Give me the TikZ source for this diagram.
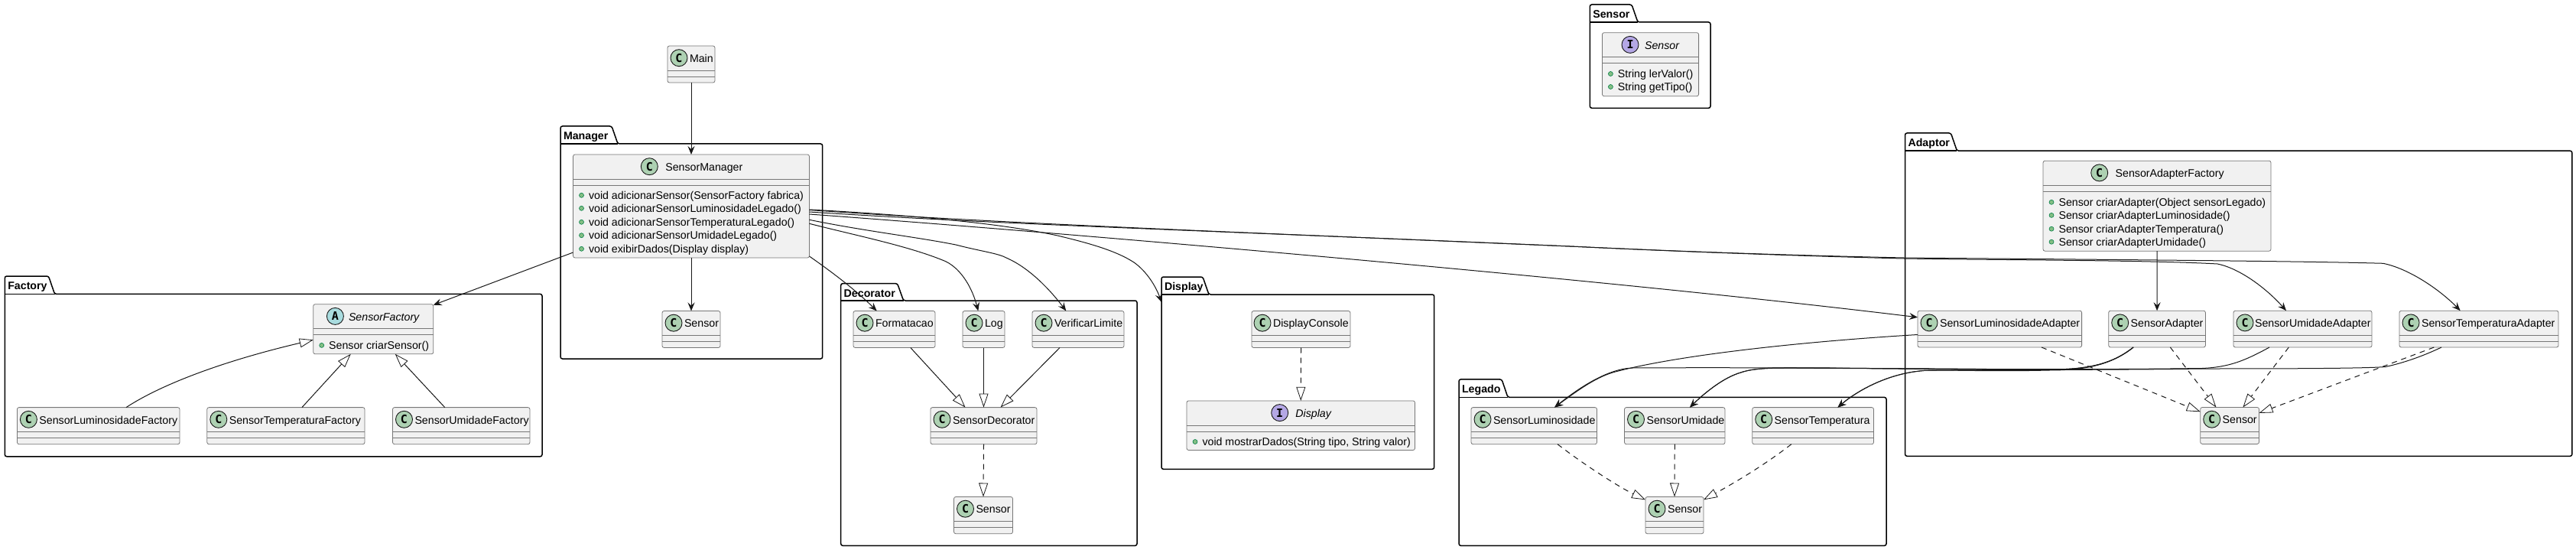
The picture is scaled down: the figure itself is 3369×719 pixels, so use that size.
\documentclass[tikz,border=0pt]{standalone}
\usepackage{fontspec}
\setmainfont{Liberation Sans}
\newfontfamily\iconfont{DejaVu Sans Mono}
\usetikzlibrary{arrows.meta}
\definecolor{umlfill}{HTML}{F1F1F1}
\definecolor{umlline}{HTML}{181818}
\definecolor{umlbox}{HTML}{777777}
\definecolor{iconC}{HTML}{ADD1B2}
\definecolor{iconA}{HTML}{A9DCDF}
\definecolor{iconI}{HTML}{B4A7E5}
\definecolor{dotfill}{HTML}{84BE84}
\definecolor{dotline}{HTML}{038048}
\tikzset{
  every node/.style={inner sep=0pt,outer sep=0pt,font=\fontsize{14.2}{16}\selectfont},
  classbox/.style={draw=umlbox,fill=umlfill,line width=0.8pt,rounded corners=2.5pt},
  compart/.style={draw=umlbox,line width=0.8pt},
  classtext/.style={anchor=base west,text=black},
  pkgshape/.style={draw=black,line width=1.5pt,rounded corners=2.5pt},
  pkgtitle/.style={anchor=base west,font=\fontsize{14.2}{16}\selectfont\bfseries,text=black},
  assoc/.style={draw=umlline,line width=1pt,-{Stealth[length=11pt,width=9pt,inset=4pt]}},
  inherit/.style={draw=umlline,line width=1pt,-{Triangle[length=18pt,width=12pt,fill=white,line width=0.8pt]}},
  realize/.style={inherit,dash pattern=on 7pt off 6pt},
}
\newcommand{\umlclass}[9]{%
  \pgfmathsetmacro\boxcx{(#2+#4)/2}%
  \pgfmathsetmacro\boxcy{(#3+#5)/2}%
  \pgfmathsetmacro\boxw{#4-#2}%
  \pgfmathsetmacro\boxh{#5-#3}%
  \node[classbox,minimum width=\boxw pt,minimum height=\boxh pt] (#1) at (\boxcx,\boxcy) {};
  \draw[compart] (#2,#3+32) -- (#4,#3+32) (#2,#3+40) -- (#4,#3+40);
  \node[circle,draw=umlline,line width=0.9pt,fill=icon#6,minimum size=22pt] (#1-icon) at (#7,#3+15.7)
    {\iconfont\fontsize{15}{15}\selectfont\bfseries #6};
  \node[classtext] (#1-title) at (#8,#3+21.4) {#9};
}
\newcommand{\umlmethod}[5]{% name, index, left, y, text
  \fill[dotfill,draw=dotline,line width=0.6pt] (#3+11,#4) circle (3pt);
  \node[classtext] (#1-m#2) at (#3+20.5,#4+5) {#5};
}
\newcommand{\umlpackage}[8]{% name,title,x1,tabtop,bodytop,x2,y2,tabright
  \draw[pkgshape] (#3,#5) -- (#3,#4) -- (#8-8,#4) -- (#8,#5) -- (#6,#5) -- (#6,#7) -- (#3,#7) -- cycle;
  \draw[draw=black,line width=1.5pt] (#3,#5) -- (#8,#5);
  \node[pkgtitle] (#1-title) at (#3+4,#4+17.5) {#2};
  \pgfmathsetmacro\boxcx{(#3+#6)/2}%
  \pgfmathsetmacro\boxcy{(#5+#7)/2}%
  \pgfmathsetmacro\boxw{#6-#3}%
  \pgfmathsetmacro\boxh{#7-#5}%
  \node[minimum width=\boxw pt,minimum height=\boxh pt] (#1) at (\boxcx,\boxcy) {};
}
\begin{document}
\begin{tikzpicture}[x=1pt,y=-1pt]
\useasboundingbox[fill=white] (0,0) rectangle (3369,719);
% packages
\umlpackage{pkgManager}{Manager}{733}{165}{188}{1075.7}{469}{808}
\umlpackage{pkgFactory}{Factory}{6.3}{361}{384.4}{709}{596.8}{71.5}
\umlpackage{pkgSensor}{Sensor}{2079.3}{6}{29}{2237}{141.3}{2142}
\umlpackage{pkgDecorator}{Decorator}{1099.7}{370.6}{393}{1487}{713.3}{1181.6}
\umlpackage{pkgDisplay}{Display}{1519}{362}{385}{1875.7}{613.3}{1581}
\umlpackage{pkgLegado}{Legado}{1908}{495.9}{519.4}{2467}{713.3}{1972}
\umlpackage{pkgAdaptor}{Adaptor}{2491.5}{174}{197.2}{3363.8}{596.3}{2559.4}
% classes
\umlclass{Main}{873}{60}{935}{108}{C}{888}{902}{Main}
\umlclass{SM}{749.5}{202}{1058.5}{337}{C}{849.3}{870.3}{SensorManager}
\umlmethod{SM}{1}{749.5}{255.3}{void adicionarSensor(SensorFactory fabrica)}
\umlmethod{SM}{2}{749.5}{272.3}{void adicionarSensorLuminosidadeLegado()}
\umlmethod{SM}{3}{749.5}{290.3}{void adicionarSensorTemperaturaLegado()}
\umlmethod{SM}{4}{749.5}{307.7}{void adicionarSensorUmidadeLegado()}
\umlmethod{SM}{5}{749.5}{325.3}{void exibirDados(Display display)}
\umlclass{MSensor}{866}{406.5}{942}{454.5}{C}{881}{895}{Sensor}

\umlclass{SF}{409.7}{397.7}{566.8}{462.8}{A}{438.4}{456}{\itshape SensorFactory}
\umlmethod{SF}{1}{409.7}{451.4}{Sensor criarSensor()}
\umlclass{SLF}{22.4}{532.6}{235}{580.7}{C}{37.4}{51.4}{SensorLuminosidadeFactory}
\umlclass{STF}{270.8}{532.6}{477}{580.7}{C}{285.8}{299.8}{SensorTemperaturaFactory}
\umlclass{SUF}{513.5}{532.6}{693}{580.7}{C}{528.5}{542.5}{SensorUmidadeFactory}

\umlclass{SI}{2095.4}{42.7}{2221.6}{125.7}{I}{2132}{2151}{\itshape Sensor}
\umlmethod{SI}{1}{2095.4}{96.5}{String lerValor()}
\umlmethod{SI}{2}{2095.4}{113.5}{String getTipo()}

\umlclass{Fmt}{1116}{406.5}{1223}{454.5}{C}{1131}{1145}{Formatacao}
\umlclass{Log}{1259}{406.5}{1314}{454.5}{C}{1274}{1288}{Log}
\umlclass{VL}{1350}{406.5}{1470}{454.5}{C}{1365}{1379}{VerificarLimite}
\umlclass{SD}{1217}{532.6}{1356}{580.7}{C}{1232}{1246}{SensorDecorator}
\umlclass{DSensor}{1247.5}{649.5}{1324.5}{697.7}{C}{1262.5}{1276.5}{Sensor}

\umlclass{DC}{1637}{406.5}{1766}{454.5}{C}{1651}{1665}{DisplayConsole}
\umlclass{DI}{1552}{523.9}{1850.5}{588.5}{I}{1673.7}{1694.4}{\itshape Display}
\umlmethod{DI}{1}{1552}{577.5}{void mostrarDados(String tipo, String valor)}

\umlclass{SL}{1924}{532.6}{2088.5}{580.7}{C}{1939}{1953}{SensorLuminosidade}
\umlclass{SU}{2124.5}{532.6}{2256}{580.7}{C}{2139.5}{2153.5}{SensorUmidade}
\umlclass{ST}{2291.7}{532.6}{2450.5}{580.7}{C}{2306.7}{2320.7}{SensorTemperatura}
\umlclass{LSensor}{2152}{649.5}{2228}{697.7}{C}{2167}{2181}{Sensor}

\umlclass{SAF}{2672}{210.2}{2970}{328.2}{C}{2745.7}{2766.6}{SensorAdapterFactory}
\umlmethod{SAF}{1}{2672}{264.3}{Sensor criarAdapter(Object sensorLegado)}
\umlmethod{SAF}{2}{2672}{281.4}{Sensor criarAdapterLuminosidade()}
\umlmethod{SAF}{3}{2672}{299.2}{Sensor criarAdapterTemperatura()}
\umlmethod{SAF}{4}{2672}{316.2}{Sensor criarAdapterUmidade()}
\umlclass{SLA}{2508}{406.2}{2722.6}{454}{C}{2523}{2537}{SensorLuminosidadeAdapter}
\umlclass{SA}{2757.7}{406.2}{2884.4}{454}{C}{2772.7}{2786.7}{SensorAdapter}
\umlclass{SUA}{2921}{406.2}{3102}{454}{C}{2936}{2949}{SensorUmidadeAdapter}
\umlclass{STA}{3138}{406.2}{3346}{454}{C}{3153}{3167}{SensorTemperaturaAdapter}
\umlclass{ASensor}{2877.7}{532.5}{2954.5}{580.4}{C}{2892.7}{2906.7}{Sensor}
% straight associations
\draw[assoc] (Main.south) -- (SM.north);
\draw[assoc] (SM.south) -- (MSensor.north);
\draw[assoc] ([yshift=7pt]SM.south west) -- ([yshift=-1pt]SF.north east);
\draw[assoc] (SAF.south) -- (SA.north);
% SensorManager to the decorators and the display
\draw[assoc] ([yshift=2pt]SM.south east) .. controls (1090,357) and (1120,380) .. ([xshift=30.7pt]Fmt.north west);
\draw[assoc] ([yshift=-22.8pt]SM.east) .. controls (1120,308) and (1190,322) .. (1236.7,341.7)
  .. controls (1258,352) and (1272,378) .. ([xshift=-7.2pt]Log.north);
\draw[assoc] ([yshift=-17.8pt]SM.east) .. controls (1130,302) and (1200,310) .. (1250,320)
  .. controls (1285,329) and (1305,331) .. (1316.7,337.3)
  .. controls (1350,352) and (1378,385) .. ([xshift=-15.7pt]VL.north);
\draw[assoc] ([yshift=-4.5pt]SM.east) .. controls (1170,280) and (1300,290) .. (1383,308)
  .. controls (1425,318) and (1460,328) .. (1483,343)
  .. controls (1500,355) and (1512,375) .. ([yshift=-10pt]pkgDisplay.north west);
% SensorManager to the adapters
\draw[assoc] ([yshift=-10.5pt]SM.east) .. controls (1400,305) and (2100,365) .. ([yshift=15.3pt]SLA.west);
\draw[assoc] ([yshift=-5pt]SM.east) .. controls (1300,291.5) and (1570,301.5) .. (2060,322.3)
  .. controls (2200,329) and (2350,334.5) .. (2490,338)
  .. controls (2620,340) and (2810,340) .. (2900,345)
  .. controls (2930,351) and (2965,378) .. ([xshift=-21.5pt]SUA.north);
\draw[assoc] ([yshift=-7.5pt]SM.east) .. controls (1300,293) and (1570,301) .. (2060,322.3)
  .. controls (2200,329) and (2350,334) .. (2490,337)
  .. controls (2700,339) and (3000,341) .. (3116.7,344.3)
  .. controls (3150,351) and (3190,378) .. ([xshift=-24.3pt]STA.north);
% adapters to the legacy classes
\draw[assoc] ([yshift=-7.4pt]SLA.west) .. controls (2350,447) and (2190,465) .. (2110,486.7)
  .. controls (2085,494) and (2060,513) .. ([xshift=26.75pt]SL.north);
\draw[assoc] ([xshift=-31pt]SA.south) .. controls (2760,478) and (2725,483) .. (2680,483)
  .. controls (2500,482) and (2300,480) .. (2135,481)
  .. controls (2105,482) and (2070,503) .. ([xshift=26.75pt]SL.north);
\draw[assoc] ([xshift=-31pt]SA.south) .. controls (2760,478) and (2725,483) .. (2680,483)
  .. controls (2550,484) and (2400,480) .. (2333,481)
  .. controls (2300,481) and (2285,484) .. (2276.7,487)
  .. controls (2255,493) and (2230,513) .. ([xshift=19.75pt]SU.north);
\draw[assoc] ([xshift=-31pt]SA.south) .. controls (2760,478) and (2725,484) .. (2680,484)
  .. controls (2600,486) and (2540,483) .. (2516,484.5)
  .. controls (2470,488) and (2430,510) .. ([xshift=32.3pt]ST.north);
\draw[assoc] ([xshift=-43.5pt]SUA.south) .. controls (2935,472) and (2915,480) .. (2880,481.5)
  .. controls (2700,484) and (2500,482) .. (2333,481)
  .. controls (2300,481) and (2285,484) .. (2276.7,487)
  .. controls (2255,493) and (2230,513) .. ([xshift=19.75pt]SU.north);
\draw[assoc] ([xshift=-49pt]STA.south) .. controls (3170,465) and (3145,474) .. (3120,479.5)
  .. controls (3090,482) and (2950,482) .. (2880,482)
  .. controls (2750,484) and (2600,483) .. (2516,484.5)
  .. controls (2470,488) and (2430,510) .. ([xshift=32.3pt]ST.north);
% inheritance
\draw[inherit] ([xshift=36.3pt]SLF.north) .. controls (215,500) and (300,470) .. ([yshift=-46.6pt]SF.north west);
\draw[inherit] ([xshift=21pt]STF.north) -- ([xshift=-29.5pt]SF.south);
\draw[inherit] ([xshift=-21.5pt]SUF.north) -- ([xshift=28.5pt]SF.south);
\draw[inherit] ([xshift=21.3pt]Fmt.south) -- ([xshift=-24pt]SD.north);
\draw[inherit] (Log.south) -- (SD.north);
\draw[inherit] ([xshift=-24pt]VL.south) -- ([xshift=22pt]SD.north);
% realizations
\draw[realize] (SD.south) -- (DSensor.north);
\draw[realize] (DC.south) -- (DI.north);
\draw[realize] ([xshift=30.75pt]SL.south) .. controls (2075,610) and (2120,638) .. ([yshift=-3.8pt]LSensor.north west);
\draw[realize] (SU.south) -- (LSensor.north);
\draw[realize] ([xshift=-28.3pt]ST.south) .. controls (2305,610) and (2265,633) .. ([yshift=-3.8pt]LSensor.north east);
\draw[realize] ([xshift=54.7pt]SLA.south) -- ([yshift=-5.8pt]ASensor.north west);
\draw[realize] ([xshift=17.3pt]SA.south) -- ([xshift=-17.7pt]ASensor.north);
\draw[realize] ([xshift=-18.2pt]SUA.south) -- ([xshift=17.3pt]ASensor.north);
\draw[realize] ([xshift=-58.7pt]STA.south) -- ([yshift=-7.5pt]ASensor.north east);
\end{tikzpicture}
\end{document}
